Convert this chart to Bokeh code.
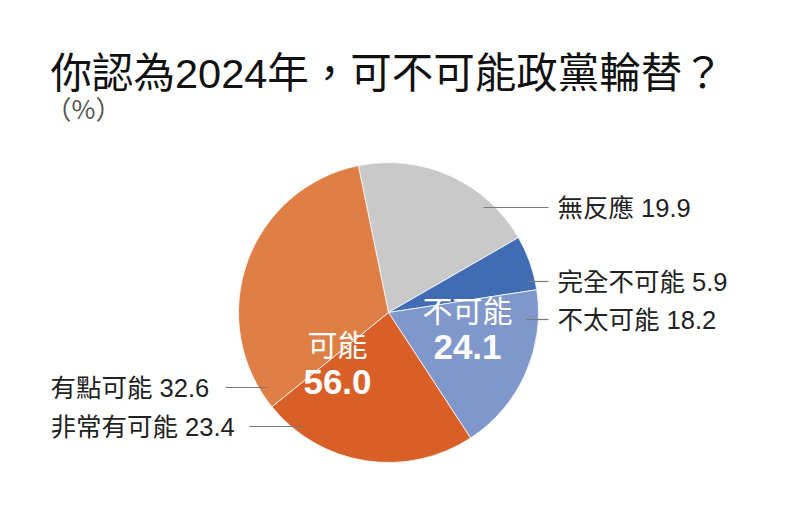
import numpy as np
from bokeh.plotting import figure
from bokeh.models import Range1d, ColumnDataSource
from bokeh.core.properties import value
from bokeh.embed import file_html
from bokeh.resources import INLINE

# ---- data ----
title_text = "你認為2024年，可不可能政黨輪替？"
unit_text = "（%）"
categories = ["無反應", "完全不可能", "不太可能", "非常有可能", "有點可能"]
values = [19.9, 5.9, 18.2, 23.4, 32.6]
group_names = ["不可能", "可能"]
group_values = [24.1, 56.0]

# ---- styles / layout ----
colors = ["#c9c9c9", "#3f6cb3", "#7f97cb", "#d85f28", "#e07f45"]
W, H = 800, 521
CX, CY, R = 388, 312, 150
START_OFFSET = -11.6  # degrees clockwise from 12 o'clock
FONT = value("Liberation Sans, Noto Sans CJK TC")
CJK = value("Noto Sans CJK TC")

def Y(y):
    return H - y

p = figure(width=W, height=H, x_range=Range1d(0, W), y_range=Range1d(0, H),
           output_backend="svg", toolbar_location=None,
           x_axis_type=None, y_axis_type=None, min_border=0)
p.outline_line_color = None
p.grid.visible = False
p.background_fill_color = "white"
p.border_fill_color = "white"

vals = np.array(values, dtype=float)
cum = np.concatenate([[0.0], np.cumsum(vals)])
theta0 = START_OFFSET + cum[:-1] / cum[-1] * 360.0
theta1 = START_OFFSET + cum[1:] / cum[-1] * 360.0
src = ColumnDataSource(dict(
    cat=categories, val=values, color=colors,
    start=np.radians(90.0 - theta0), end=np.radians(90.0 - theta1),
))
p.wedge(x=CX, y=Y(CY), radius=R, radius_units="screen",
        start_angle="start", end_angle="end", direction="clock",
        fill_color="color", line_color="white", line_width=0.8, source=src)

# title
p.text(x=[50], y=[Y(73)], text=[title_text], text_font=FONT, text_font_size="41.5px",
       text_baseline="middle", text_align="left", text_color="#111111")
p.text(x=[45], y=[Y(107)], text=[unit_text], text_font=CJK, text_font_size="26px",
       text_baseline="middle", text_align="left", text_color="#555555")

# leader labels
label_pos = {
    "無反應": (557, 207, 483, 548),
    "完全不可能": (557, 281, 527, 548),
    "不太可能": (557, 319, 525, 548),
    "有點可能": (50, 387, 225, 267),
    "非常有可能": (50, 426, 249, 303),
}
lx, ly, lt, sx0, sx1, sy = [], [], [], [], [], []
for c, v in zip(categories, values):
    tx, ty, a, b = label_pos[c]
    lx.append(tx); ly.append(Y(ty)); lt.append(f"{c} {v}")
    sx0.append(a); sx1.append(b); sy.append(Y(ty))
p.segment(x0=sx0, y0=sy, x1=sx1, y1=sy, line_color="#7a7a7a", line_width=1.2)
p.text(x=lx, y=ly, text=lt, text_font=FONT, text_font_size="25.5px",
       text_baseline="middle", text_align="left", text_color="#222222")

# group labels inside pie
gpos = {"不可能": (467, 308, 346), "可能": (337, 342, 381)}
gx, gy1, gy2, gt1, gt2 = [], [], [], [], []
for g, v in zip(group_names, group_values):
    x, y1, y2 = gpos[g]
    gx.append(x); gy1.append(Y(y1)); gy2.append(Y(y2))
    gt1.append(g); gt2.append(f"{v:.1f}")
p.text(x=gx, y=gy1, text=gt1, text_font=CJK, text_font_size="30px",
       text_baseline="middle", text_align="center", text_color="white")
p.text(x=gx, y=gy2, text=gt2, text_font=FONT, text_font_size="35px",
       text_font_style="bold", text_baseline="middle", text_align="center", text_color="white")

open("out.html", "w").write(file_html(p, INLINE))
